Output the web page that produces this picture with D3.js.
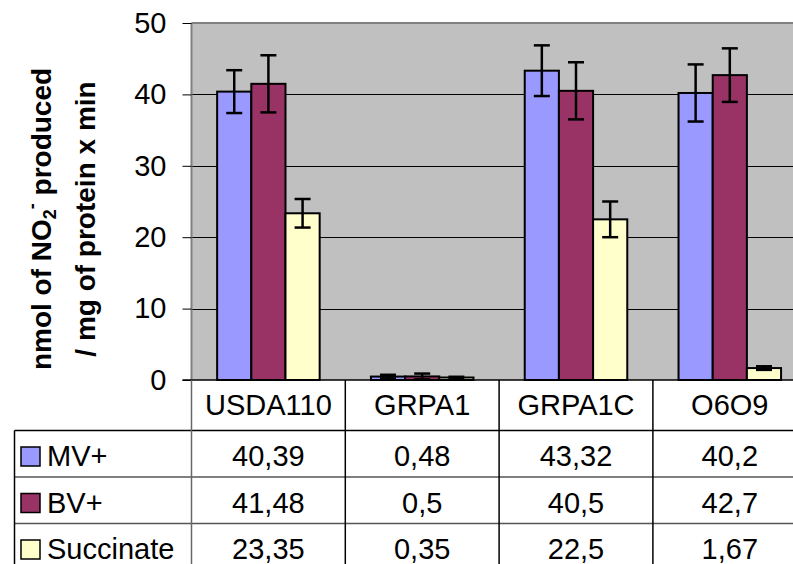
<!DOCTYPE html>
<html>
<head>
<meta charset="utf-8">
<script src="https://cdn.jsdelivr.net/npm/d3@7"></script>
<style>
  html, body { margin: 0; padding: 0; background: #fff; }
  svg { display: block; font-family: Arial, "Liberation Sans", sans-serif; }
</style>
</head>
<body>
<div id="chart"></div>
<script>
const categories = ['USDA110', 'GRPA1', 'GRPA1C', 'O6O9'];
const seriesNames = ['MV+', 'BV+', 'Succinate'];
const mvValues = [40.39, 0.48, 43.32, 40.2];
const bvValues = [41.48, 0.5, 40.5, 42.7];
const succinateValues = [23.35, 0.35, 22.5, 1.67];
const mvErrors = [3.0, 0.25, 3.55, 4.0];
const bvErrors = [4.0, 0.4, 4.0, 3.75];
const succinateErrors = [2.0, 0.1, 2.5, 0.25];
const seriesColors = ['#9999ff', '#993366', '#ffffcc'];
const yTicks = [0, 10, 20, 30, 40, 50];

const width = 793;
const height = 564;
const plotLeft = 191.5;
const plotTop = 23;
const plotBottom = 380;
const catWidth = 153.8;
const plotRight = plotLeft + catWidth * categories.length;
const rowHeight = 46.5;
const headerBottom = 430.5;
const tableLeft = 14.5;

const series = seriesNames.map((name, i) => ({
    name,
    color: seriesColors[i],
    values: [mvValues, bvValues, succinateValues][i],
    errors: [mvErrors, bvErrors, succinateErrors][i]
}));

const x = d3.scaleBand().domain(categories).range([plotLeft, plotRight]);
const xInner = d3.scaleBand().domain(seriesNames).range([0, catWidth])
    .paddingInner(0).paddingOuter(0.75);
const y = d3.scaleLinear().domain([0, 50]).range([plotBottom, plotTop]);

const svg = d3.select('#chart').append('svg')
    .attr('width', width)
    .attr('height', height);

// plot area
svg.append('rect')
    .attr('x', plotLeft).attr('y', plotTop)
    .attr('width', plotRight - plotLeft).attr('height', plotBottom - plotTop)
    .attr('fill', '#c0c0c0');

// gridlines
svg.append('g').selectAll('line')
    .data(yTicks.filter(t => t > 0 && t < 50))
    .join('line')
    .attr('x1', plotLeft).attr('x2', plotRight)
    .attr('y1', d => Math.round(y(d)) + 0.5).attr('y2', d => Math.round(y(d)) + 0.5)
    .attr('stroke', '#000').attr('stroke-width', 1);

// top border of plot
svg.append('line')
    .attr('x1', plotLeft).attr('x2', plotRight)
    .attr('y1', plotTop).attr('y2', plotTop)
    .attr('stroke', '#808080').attr('stroke-width', 2);

// bars
const groups = svg.append('g').selectAll('g')
    .data(series)
    .join('g');

groups.selectAll('rect')
    .data(s => s.values.map((v, i) => ({ v, cat: categories[i], s })))
    .join('rect')
    .attr('x', d => x(d.cat) + xInner(d.s.name))
    .attr('y', d => y(d.v))
    .attr('width', xInner.bandwidth())
    .attr('height', d => plotBottom - y(d.v))
    .attr('fill', d => d.s.color)
    .attr('stroke', '#000')
    .attr('stroke-width', 2);

// error bars
const capHalf = 8;
const err = svg.append('g').attr('stroke', '#000').attr('stroke-width', 2.5);
series.forEach(s => {
    s.values.forEach((v, i) => {
        const cx = x(categories[i]) + xInner(s.name) + xInner.bandwidth() / 2;
        const top = y(v + s.errors[i]);
        const bot = y(v - s.errors[i]);
        err.append('line').attr('x1', cx).attr('x2', cx).attr('y1', top).attr('y2', bot);
        err.append('line').attr('x1', cx - capHalf).attr('x2', cx + capHalf).attr('y1', top).attr('y2', top);
        err.append('line').attr('x1', cx - capHalf).attr('x2', cx + capHalf).attr('y1', bot).attr('y2', bot);
    });
});

// y axis
const yAxis = d3.axisLeft(y).tickValues(yTicks).tickSize(9).tickPadding(16);
const yAxisG = svg.append('g')
    .attr('transform', `translate(${plotLeft},0)`)
    .call(yAxis);
yAxisG.select('.domain').attr('stroke', '#808080').attr('stroke-width', 2)
    .attr('d', `M0,${plotTop}V${plotBottom}`);
yAxisG.selectAll('.tick line').attr('stroke', '#000');
yAxisG.selectAll('.tick text')
    .attr('font-size', 29)
    .attr('font-family', 'Arial, "Liberation Sans", sans-serif')
    .attr('fill', '#000');

// x axis baseline
svg.append('line')
    .attr('x1', plotLeft - 9).attr('x2', plotRight)
    .attr('y1', plotBottom).attr('y2', plotBottom)
    .attr('stroke', '#000').attr('stroke-width', 1.5);

// y axis title
const title = svg.append('g')
    .attr('transform', `translate(0,219) rotate(-90)`)
    .attr('font-weight', 'bold')
    .attr('font-size', 28)
    .attr('text-anchor', 'middle');
const t1 = title.append('text').attr('x', 0).attr('y', 51);
t1.append('tspan').text('nmol of NO');
t1.append('tspan').attr('font-size', 18).attr('dy', 5).text('2');
t1.append('tspan').attr('font-size', 18).attr('dy', -18).text('-');
t1.append('tspan').attr('dy', 13).text(' produced');
title.append('text').attr('x', 0).attr('y', 95).text('/ mg of protein x min');

// data table
const table = svg.append('g');
const rowsTop = headerBottom;
const tableBottom = rowsTop + rowHeight * series.length;

// header labels
table.selectAll('text.cat')
    .data(categories)
    .join('text')
    .attr('class', 'cat')
    .attr('x', d => x(d) + x.bandwidth() / 2)
    .attr('y', 415)
    .attr('text-anchor', 'middle')
    .attr('font-size', 29)
    .text(d => d);

// horizontal lines
table.append('line')
    .attr('x1', tableLeft).attr('x2', plotRight)
    .attr('y1', rowsTop).attr('y2', rowsTop)
    .attr('stroke', '#000').attr('stroke-width', 1.5);
table.selectAll('line.row')
    .data(d3.range(1, series.length))
    .join('line')
    .attr('class', 'row')
    .attr('x1', tableLeft).attr('x2', plotRight)
    .attr('y1', i => rowsTop + i * rowHeight).attr('y2', i => rowsTop + i * rowHeight)
    .attr('stroke', '#555').attr('stroke-width', 1.5);

// vertical lines
table.append('line')
    .attr('x1', tableLeft).attr('x2', tableLeft)
    .attr('y1', rowsTop).attr('y2', tableBottom)
    .attr('stroke', '#000').attr('stroke-width', 1.5);
table.append('line')
    .attr('x1', plotLeft).attr('x2', plotLeft)
    .attr('y1', plotBottom).attr('y2', tableBottom)
    .attr('stroke', '#666').attr('stroke-width', 1.5);
table.selectAll('line.col')
    .data(categories.slice(1))
    .join('line')
    .attr('class', 'col')
    .attr('x1', d => x(d)).attr('x2', d => x(d))
    .attr('y1', plotBottom).attr('y2', tableBottom)
    .attr('stroke', '#000').attr('stroke-width', 1.5);

// rows: legend key, name, values
const rows = table.selectAll('g.rowg')
    .data(series)
    .join('g')
    .attr('class', 'rowg')
    .attr('transform', (d, i) => `translate(0,${rowsTop + i * rowHeight})`);

rows.append('rect')
    .attr('x', 21).attr('y', 16.5)
    .attr('width', 19).attr('height', 19)
    .attr('fill', d => d.color)
    .attr('stroke', '#000').attr('stroke-width', 1.5);

rows.append('text')
    .attr('x', 47).attr('y', 35.5)
    .attr('font-size', 29)
    .text(d => d.name);

rows.selectAll('text.val')
    .data(d => d.values.map((v, i) => ({ v, cat: categories[i] })))
    .join('text')
    .attr('class', 'val')
    .attr('x', d => x(d.cat) + x.bandwidth() / 2)
    .attr('y', 35.5)
    .attr('text-anchor', 'middle')
    .attr('font-size', 29)
    .text(d => String(d.v).replace('.', ','));
</script>
</body>
</html>
